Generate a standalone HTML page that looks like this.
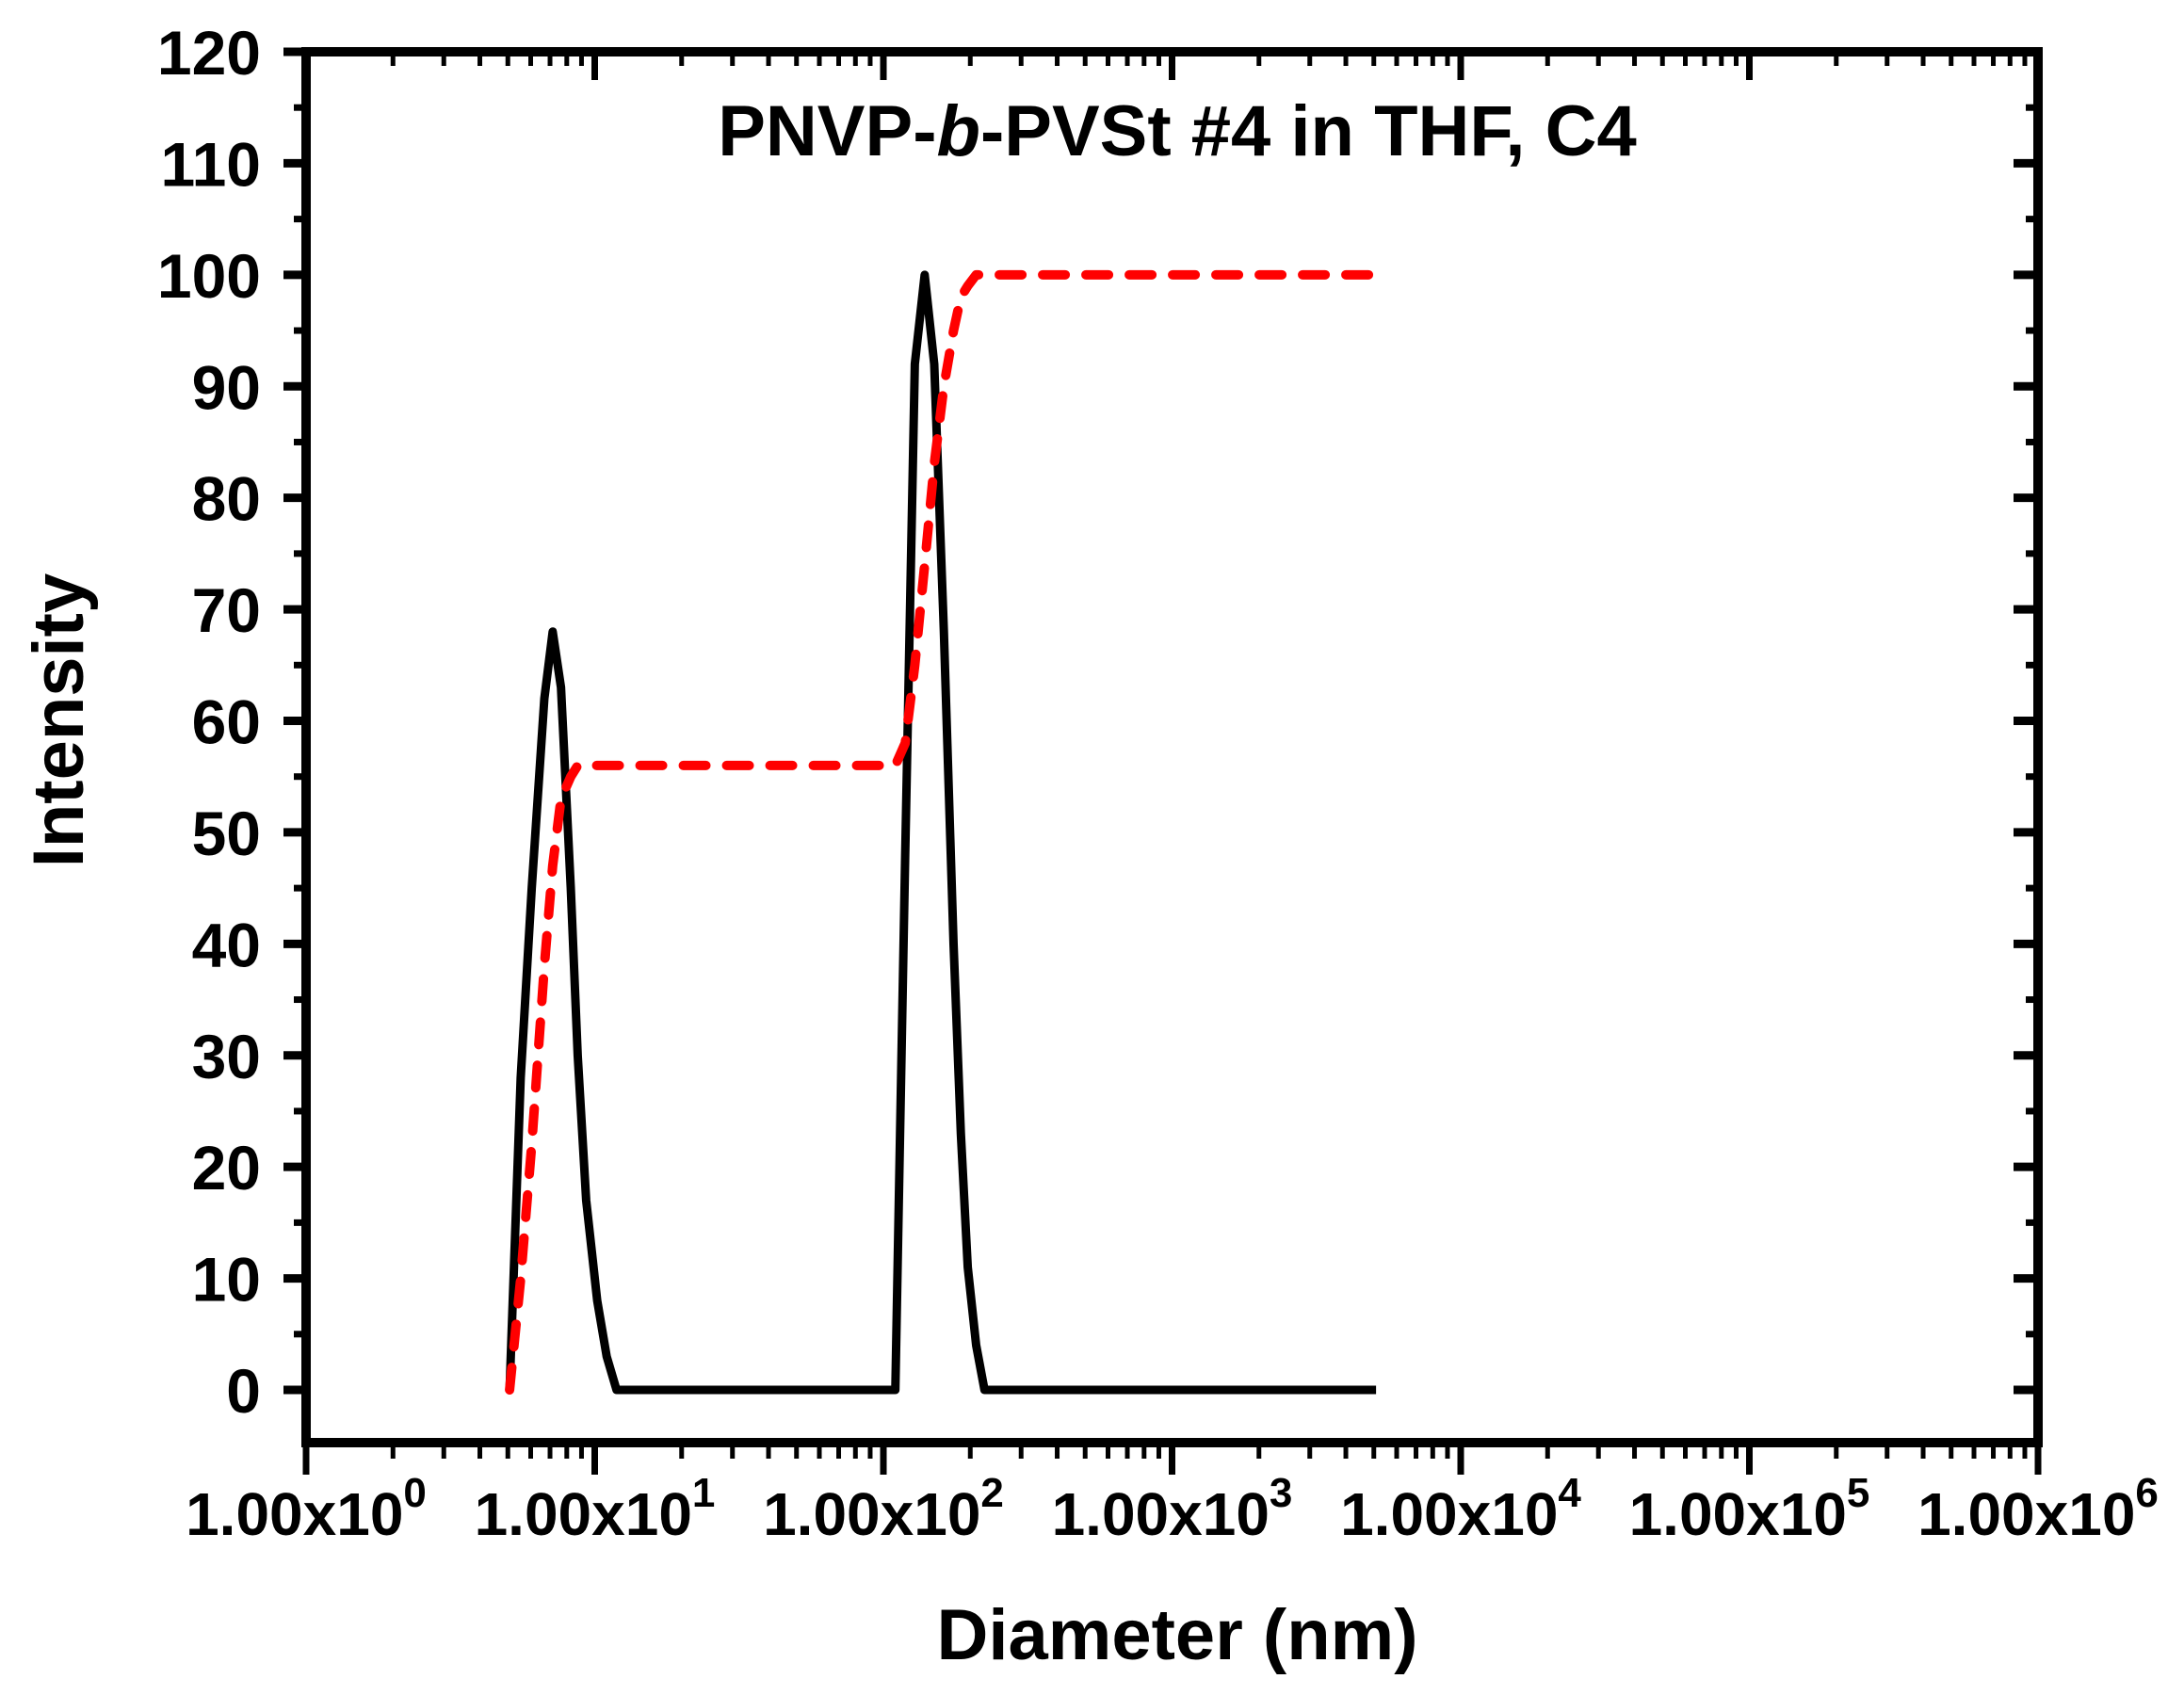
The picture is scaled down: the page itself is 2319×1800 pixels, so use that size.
<!DOCTYPE html>
<html><head><meta charset="utf-8"><style>
html,body{margin:0;padding:0;background:#fff}
svg{display:block}
text{font-family:"Liberation Sans",Arial,sans-serif;font-weight:bold;fill:#000}
</style></head><body>
<svg id="chart" width="2319" height="1800" viewBox="0 0 2319 1800" xmlns="http://www.w3.org/2000/svg">
<g id="ticks"></g>
<g id="series"></g>
<rect x="325" y="55" width="1839" height="1477" fill="none" stroke="#000" stroke-width="10"/>
<text x="1250" y="165" font-size="76" text-anchor="middle">PNVP-<tspan font-style="italic">b</tspan>-PVSt #4 in THF, C4</text>
<text x="1250" y="1762" font-size="76" text-anchor="middle">Diameter (nm)</text>
<text x="0" y="0" font-size="76" text-anchor="middle" transform="translate(88,765) rotate(-90)">Intensity</text>
<g id="labels"></g>
</svg>
<script>
const diameters = [5.07,5.54,6.05,6.69,7.15,7.64,8.26,8.73,9.34,10.2,11.0,11.9,110,119,128.5,139,150,162,175,185.5,196,209.6,224,5090];
const intensity = [0,28,45,62,68,63,45,30,17,8,3,0,0,48,92,100,92,68,40,23,11,4,0,0];
const cumulative = [0,10,22,38,47,53,55,56,56,56,56,56,56,58,65,74,83,90,95,98,99,100,100,100];
const yTicks = [0,10,20,30,40,50,60,70,80,90,100,110,120];
const xExponents = [0,1,2,3,4,5,6];

const L=325,R=2164,T=55,B=1532;
const X0=L, XD=(R-L)/6;
function xs(d){return X0+Math.log10(d)*XD;}
function ys(v){return 1476-v*(1476-55)/120;}
const NS="http://www.w3.org/2000/svg";
function mk(tag,attrs,parent){const e=document.createElementNS(NS,tag);for(const k in attrs)e.setAttribute(k,attrs[k]);parent.appendChild(e);return e;}
const tg=document.getElementById('ticks'), lg=document.getElementById('labels'), sg=document.getElementById('series');

yTicks.forEach(v=>{
  const y=ys(v);
  let t=mk('line',{x1:L-24,x2:L,y1:y,y2:y,stroke:'#000','stroke-width':9},tg);
  
  
  let t2=mk('line',{x1:R-26,x2:R,y1:y,y2:y,stroke:'#000','stroke-width':9},tg);
  
  
  if(v<120){
    const ym=ys(v+5);
    let m=mk('line',{x1:L-13,x2:L,y1:ym,y2:ym,stroke:'#000','stroke-width':7},tg);
    
    
    let m2=mk('line',{x1:R-13,x2:R,y1:ym,y2:ym,stroke:'#000','stroke-width':7},tg);
    
    
  }
  const tx=mk('text',{x:L-48,y:y+24,'font-size':66,'text-anchor':'end'},lg);
  tx.textContent=v;
  
  
});
xExponents.forEach(e=>{
  const x=X0+e*XD;
  let t=mk('line',{x1:x,x2:x,y1:B,y2:B+34,stroke:'#000','stroke-width':7},tg);
  
  
  let t2=mk('line',{x1:x,x2:x,y1:T,y2:T+30,stroke:'#000','stroke-width':7},tg);
  
  
  if(e<6){
    for(let k=2;k<=9;k++){
      const xm=x+Math.log10(k)*XD;
      let m=mk('line',{x1:xm,x2:xm,y1:B,y2:B+17,stroke:'#000','stroke-width':5},tg);
      
      
      let m2=mk('line',{x1:xm,x2:xm,y1:T,y2:T+15,stroke:'#000','stroke-width':5},tg);
      
      
    }
  }
  const tx=mk('text',{x:x,y:1630,'font-size':64,'text-anchor':'middle'},lg);
  tx.innerHTML='1.00x10<tspan dy="-30" font-size="44">'+e+'</tspan>';
  
  
});
const pts1=diameters.map((d,i)=>xs(d)+','+ys(intensity[i])).join(' ');
const p1=mk('polyline',{points:pts1,fill:'none',stroke:'#000','stroke-width':9,'stroke-linejoin':'round'},sg);


const pts2=diameters.map((d,i)=>xs(d)+','+ys(cumulative[i])).join(' ');
const p2=mk('polyline',{points:pts2,fill:'none',stroke:'#f00','stroke-width':10,'stroke-dasharray':'24 22','stroke-linecap':'round','stroke-linejoin':'round'},sg);


</script>
</body></html>
